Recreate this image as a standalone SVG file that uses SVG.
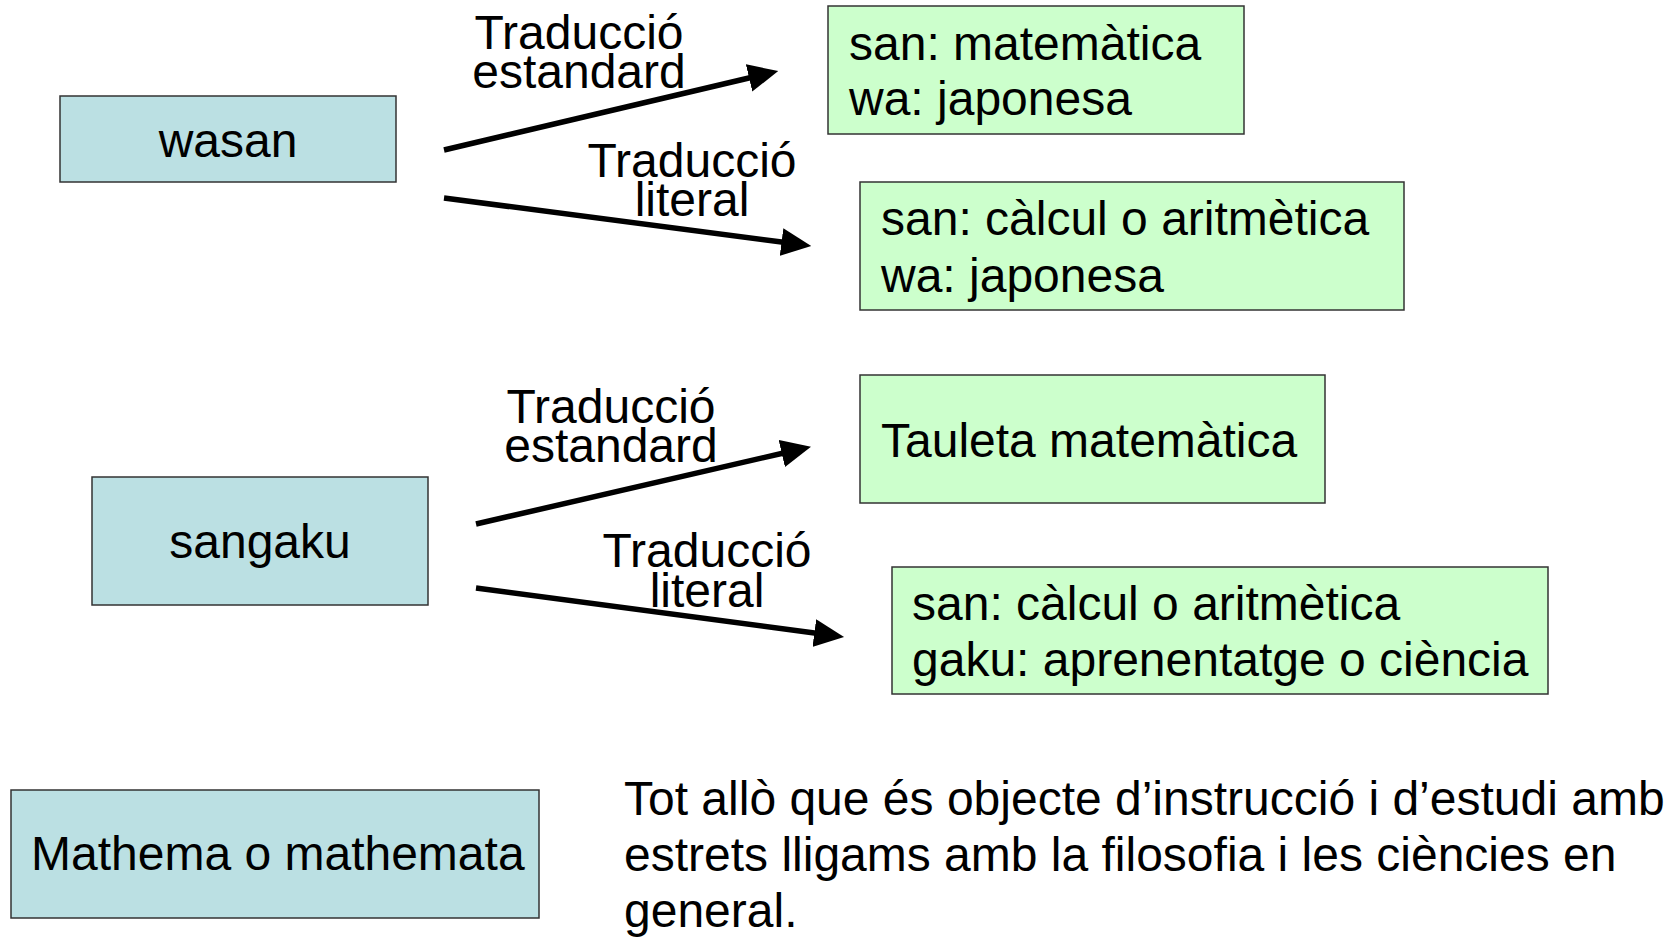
<svg xmlns="http://www.w3.org/2000/svg" width="1679" height="938" viewBox="0 0 1679 938">
<style>
text{font-family:"Liberation Sans",Arial,sans-serif;font-size:48px;fill:#000}
.blue{fill:#BBE0E3;stroke:#333;stroke-width:1.5}
.green{fill:#CCFFCC;stroke:#333;stroke-width:1.5}
.conn line{stroke:#000;stroke-width:5.5;marker-end:url(#ah)}
.mid{text-anchor:middle}
</style>
<defs>
<marker id="ah" viewBox="0 0 30 28" refX="2" refY="14" markerWidth="30" markerHeight="28" markerUnits="userSpaceOnUse" orient="auto">
<path d="M0,0 L30,14 L0,28 Z" fill="#000"/>
</marker>
</defs>
<rect width="1679" height="938" fill="#fff"/>
<g id="wasan"><rect class="blue" x="60" y="96" width="336" height="86"/><text class="mid" x="228" y="157">wasan</text></g>
<g id="std1"><rect class="green" x="828" y="6" width="416" height="128"/><text x="849" y="60">san: matemàtica</text><text x="849" y="115">wa: japonesa</text></g>
<g id="lit1"><rect class="green" x="860" y="182" width="544" height="128"/><text x="881" y="235">san: càlcul o aritmètica</text><text x="881" y="292">wa: japonesa</text></g>
<g id="sangaku"><rect class="blue" x="92" y="477" width="336" height="128"/><text class="mid" x="260" y="558">sangaku</text></g>
<g id="std2"><rect class="green" x="860" y="375" width="465" height="128"/><text x="881" y="457">Tauleta matemàtica</text></g>
<g id="lit2"><rect class="green" x="892" y="567" width="656" height="127"/><text x="912" y="620">san: càlcul o aritmètica</text><text x="912" y="676">gaku: aprenentatge o ciència</text></g>
<g id="mathema"><rect class="blue" x="11" y="790" width="528" height="128"/><text x="31" y="870">Mathema o mathemata</text></g>
<g id="desc"><text x="624" y="815">Tot allò que és objecte d’instrucció i d’estudi amb</text><text x="624" y="871">estrets lligams amb la filosofia i les ciències en</text><text x="624" y="927">general.</text></g>
<g id="connectors" class="conn">
<line x1="444" y1="150" x2="751" y2="77.5"/>
<line x1="444" y1="198" x2="783.5" y2="242.3"/>
<line x1="476" y1="524" x2="783.7" y2="453"/>
<line x1="476" y1="588" x2="816.3" y2="633.3"/>
<text class="mid" x="579" y="49">Traducció</text><text class="mid" x="579" y="88">estandard</text>
<text class="mid" x="692" y="177">Traducció</text><text class="mid" x="692" y="216">literal</text>
<text class="mid" x="611" y="423">Traducció</text><text class="mid" x="611" y="462">estandard</text>
<text class="mid" x="707" y="567">Traducció</text><text class="mid" x="707" y="607">literal</text>
</g>
</svg>
